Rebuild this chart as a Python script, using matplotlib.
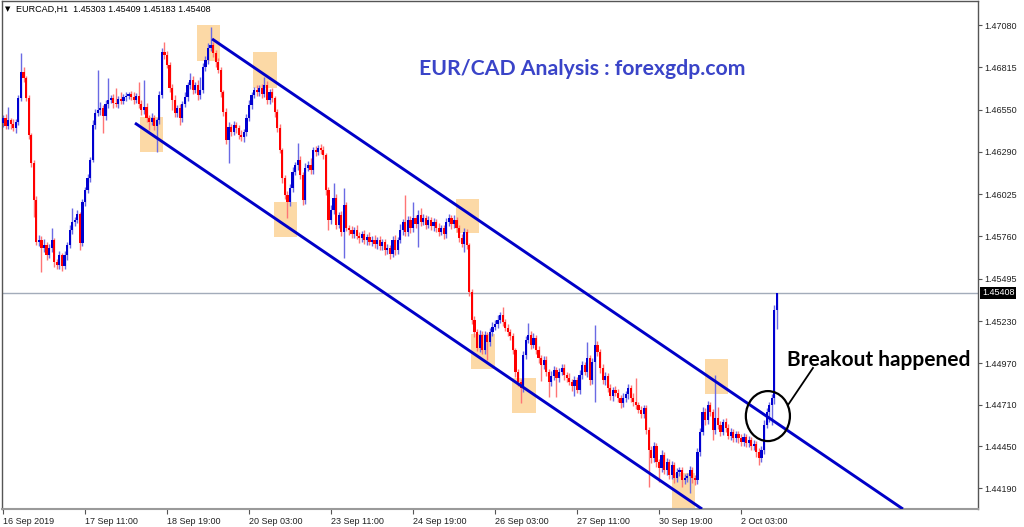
import matplotlib
matplotlib.use("Agg")
import matplotlib.pyplot as plt
import matplotlib.transforms as mtransforms
from matplotlib.patches import Rectangle, Ellipse
import numpy as np

plt.rcParams['font.family'] = ['Liberation Sans', 'DejaVu Sans']

# EURCAD H1 closes, one per bar (bar 0 = 16 Sep 2019)
closes = [
    1.46499, 1.46450, 1.46487, 1.46462, 1.46437, 1.46474, 1.46624, 1.46787, 1.46749, 1.46624,
    1.46393, 1.46219, 1.45988, 1.45725, 1.45738, 1.45688, 1.45707, 1.45644, 1.45688, 1.45738,
    1.45601, 1.45582, 1.45644, 1.45576, 1.45644, 1.45707, 1.45800, 1.45850, 1.45863, 1.45900,
    1.45719, 1.45975, 1.46050, 1.46125, 1.46237, 1.46456, 1.46531, 1.46549, 1.46562, 1.46512,
    1.46587, 1.46612, 1.46624, 1.46593, 1.46587, 1.46618, 1.46606, 1.46631, 1.46637, 1.46649,
    1.46631, 1.46612, 1.46637, 1.46587, 1.46549, 1.46568, 1.46499, 1.46474, 1.46499, 1.46450,
    1.46487, 1.46643, 1.46911, 1.46893, 1.46830, 1.46687, 1.46612, 1.46531, 1.46562, 1.46499,
    1.46587, 1.46631, 1.46705, 1.46737, 1.46674, 1.46705, 1.46643, 1.46674, 1.46818, 1.46861,
    1.46936, 1.46955, 1.46905, 1.46849, 1.46799, 1.46662, 1.46537, 1.46362, 1.46443, 1.46412,
    1.46456, 1.46437, 1.46393, 1.46381, 1.46412, 1.46499, 1.46581, 1.46643, 1.46674, 1.46662,
    1.46687, 1.46649, 1.46705, 1.46612, 1.46662, 1.46624, 1.46537, 1.46437, 1.46300, 1.46125,
    1.46019, 1.45975, 1.46063, 1.46162, 1.46206, 1.46237, 1.46144, 1.45988, 1.46187, 1.46206,
    1.46175, 1.46300, 1.46287, 1.46312, 1.46300, 1.46268, 1.46050, 1.45863, 1.45925, 1.46000,
    1.45832, 1.45894, 1.45788, 1.45956, 1.45813, 1.45800, 1.45775, 1.45800, 1.45763, 1.45750,
    1.45775, 1.45738, 1.45757, 1.45725, 1.45738, 1.45713, 1.45738, 1.45700, 1.45725, 1.45675,
    1.45688, 1.45651, 1.45738, 1.45675, 1.45738, 1.45800, 1.45850, 1.45788, 1.45863, 1.45813,
    1.45875, 1.45838, 1.45894, 1.45850, 1.45875, 1.45832, 1.45863, 1.45825, 1.45850, 1.45813,
    1.45788, 1.45813, 1.45775, 1.45850, 1.45875, 1.45838, 1.45863, 1.45813, 1.45750, 1.45713,
    1.45788, 1.45707, 1.45413, 1.45239, 1.45164, 1.45064, 1.45145, 1.45051, 1.45145, 1.45101,
    1.45164, 1.45195, 1.45214, 1.45239, 1.45270, 1.45226, 1.45189, 1.45164, 1.45139, 1.45051,
    1.44914, 1.44852, 1.44814, 1.45020, 1.45114, 1.45145, 1.45083, 1.45126, 1.45051, 1.45001,
    1.44958, 1.44989, 1.44914, 1.44852, 1.44889, 1.44926, 1.44877, 1.44914, 1.44939, 1.44895,
    1.44877, 1.44852, 1.44827, 1.44864, 1.44802, 1.44895, 1.44958, 1.44914, 1.45001, 1.44864,
    1.44976, 1.45083, 1.45039, 1.44939, 1.44864, 1.44889, 1.44814, 1.44764, 1.44802, 1.44783,
    1.44752, 1.44720, 1.44752, 1.44777, 1.44814, 1.44752, 1.44727, 1.44708, 1.44677, 1.44652,
    1.44689, 1.44552, 1.44427, 1.44377, 1.44452, 1.44352, 1.44315, 1.44396, 1.44302, 1.44352,
    1.44271, 1.44333, 1.44252, 1.44290, 1.44302, 1.44240, 1.44252, 1.44265, 1.44302, 1.44252,
    1.44240, 1.44415, 1.44540, 1.44664, 1.44614, 1.44708, 1.44664, 1.44552, 1.44627, 1.44583,
    1.44540, 1.44602, 1.44565, 1.44515, 1.44540, 1.44502, 1.44527, 1.44502, 1.44477, 1.44508,
    1.44471, 1.44490, 1.44452, 1.44465, 1.44415, 1.44377, 1.44427, 1.44583, 1.44664, 1.44708,
    1.44752, 1.45303, 1.45408,
]
first_open = 1.46470

# wick lengths above / below the candle body, in points (0.00001)
upper_wick_pts = [
    20, 25, 81, 15, 30, 18, 22, 119, 28, 15,
    20, 12, 18, 25, 30, 22, 35, 18, 25, 75,
    15, 20, 28, 12, 25, 18, 30, 87, 20, 25,
    15, 22, 18, 25, 20, 30, 22, 250, 35, 18,
    25, 137, 20, 28, 94, 22, 44, 18, 25, 15,
    20, 28, 18, 87, 22, 168, 25, 18, 30, 20,
    15, 25, 25, 62, 28, 18, 22, 30, 20, 25,
    18, 28, 22, 44, 25, 20, 30, 81, 22, 28,
    30, 112, 20, 18, 25, 22, 15, 28, 30, 20,
    25, 18, 22, 30, 20, 25, 28, 18, 22, 30,
    20, 25, 50, 28, 18, 22, 15, 20, 25, 12,
    18, 22, 25, 30, 20, 106, 28, 18, 30, 25,
    44, 20, 28, 18, 25, 22, 15, 20, 30, 94,
    25, 20, 28, 106, 22, 18, 25, 20, 30, 22,
    18, 25, 20, 28, 22, 30, 18, 25, 20, 22,
    28, 18, 25, 30, 20, 35, 22, 168, 25, 28,
    100, 22, 30, 44, 25, 20, 28, 18, 25, 22,
    30, 20, 18, 28, 25, 22, 30, 20, 18, 25,
    22, 20, 15, 18, 25, 20, 30, 22, 28, 20,
    25, 30, 22, 28, 20, 50, 22, 25, 18, 20,
    15, 22, 20, 28, 25, 75, 22, 30, 20, 25,
    18, 28, 22, 20, 30, 25, 18, 28, 22, 25,
    20, 28, 18, 25, 22, 30, 25, 20, 100, 22,
    28, 125, 25, 20, 22, 28, 18, 25, 20, 22,
    25, 18, 28, 20, 25, 22, 30, 150, 20, 25,
    22, 18, 20, 28, 25, 22, 20, 30, 18, 25,
    22, 28, 20, 25, 18, 22, 25, 20, 28, 22,
    18, 25, 22, 30, 25, 28, 20, 22, 268, 69,
    25, 20, 28, 22, 25, 18, 22, 20, 25, 28,
    20, 22, 18, 25, 20, 22, 25, 30, 28, 22,
    25, 30, 1,
]
lower_wick_pts = [
    25, 18, 22, 30, 20, 28, 15, 20, 25, 18,
    22, 28, 106, 20, 25, 150, 22, 28, 20, 25,
    30, 22, 25, 31, 20, 28, 18, 25, 22, 20,
    44, 20, 25, 18, 22, 15, 25, 20, 28, 106,
    22, 25, 18, 28, 20, 25, 22, 18, 25, 20,
    22, 28, 20, 25, 30, 22, 25, 50, 20, 28,
    162, 22, 18, 25, 20, 28, 62, 25, 22, 44,
    25, 20, 28, 22, 25, 18, 30, 22, 20, 25,
    22, 18, 25, 28, 20, 30, 25, 22, 144, 25,
    20, 28, 22, 25, 30, 22, 18, 25, 20, 28,
    22, 25, 20, 28, 25, 22, 30, 25, 20, 28,
    25, 100, 22, 25, 20, 28, 22, 30, 25, 20,
    28, 22, 25, 20, 28, 25, 30, 62, 22, 25,
    28, 22, 25, 162, 20, 28, 22, 25, 20, 28,
    22, 25, 28, 20, 25, 22, 30, 25, 22, 28,
    25, 30, 22, 28, 25, 20, 28, 22, 25, 30,
    22, 28, 144, 25, 20, 28, 22, 25, 30, 22,
    25, 20, 28, 22, 25, 30, 22, 28, 25, 20,
    50, 28, 22, 25, 30, 20, 28, 22, 25, 112,
    22, 25, 20, 28, 22, 25, 20, 28, 22, 25,
    28, 25, 94, 22, 25, 20, 28, 22, 25, 30,
    100, 22, 25, 94, 28, 22, 119, 25, 20, 28,
    25, 22, 30, 60, 22, 28, 25, 20, 28, 30,
    25, 250, 22, 28, 25, 30, 22, 25, 28, 20,
    25, 28, 22, 25, 30, 22, 28, 25, 20, 28,
    25, 22, 231, 28, 25, 30, 87, 22, 25, 28,
    22, 25, 30, 22, 28, 44, 25, 22, 106, 28,
    30, 22, 25, 20, 28, 22, 25, 62, 22, 25,
    28, 22, 25, 20, 28, 25, 22, 28, 25, 22,
    25, 28, 22, 25, 30, 44, 22, 25, 20, 62,
    125, 40, 118,
]

last_price = 1.45408
header = "EURCAD,H1  1.45303 1.45409 1.45183 1.45408"

price_ticks = [1.47080, 1.46815, 1.46550, 1.46290, 1.46025, 1.45760,
               1.45495, 1.45230, 1.44970, 1.44710, 1.44450, 1.44190]
time_tick_bars = [0, 32, 64, 96, 128, 160, 192, 224, 256, 288]
time_tick_labels = ["16 Sep 2019", "17 Sep 11:00", "18 Sep 19:00", "20 Sep 03:00",
                    "23 Sep 11:00", "24 Sep 19:00", "26 Sep 03:00", "27 Sep 11:00",
                    "30 Sep 19:00", "2 Oct 03:00"]

# channel lines as (bar, price) anchors
upper_channel = [(81.6, 1.46993), (351.2, 1.44059)]
lower_channel = [(51.5, 1.46468), (272.8, 1.44059)]

# touch zones: first bar, last bar, low price, high price
touch_zones = [
    (75.7, 84.7, 1.46855, 1.47080),
    (97.6, 106.9, 1.46687, 1.46911),
    (53.5, 62.4, 1.46287, 1.46506),
    (105.8, 114.7, 1.45757, 1.45975),
    (176.8, 185.8, 1.45782, 1.45994),
    (182.6, 192.0, 1.44933, 1.45151),
    (198.6, 208.0, 1.44658, 1.44877),
    (261.1, 270.0, 1.44059, 1.44284),
    (274.0, 283.0, 1.44777, 1.44995),
]
breakout_center = (298.5, 1.44639)
breakout_size = (17.2, 0.00312)


def draw_candles(ax):
    """Candlesticks: open is the previous close."""
    c = np.array(closes)
    o = np.concatenate([[first_open], c[:-1]])
    top = np.maximum(o, c)
    bot = np.minimum(o, c)
    hi = top + np.array(upper_wick_pts) / 1e5
    lo = bot - np.array(lower_wick_pts) / 1e5
    x = np.arange(len(c))
    up = c >= o
    body_col = np.where(up, "#0000d0", "#ff0000")
    wick_col = np.where(up, "#6a6ae4", "#ff7575")
    ax.vlines(x, lo, hi, colors=wick_col, linewidth=1.0, zorder=2)
    height = np.maximum(top - bot, 0.00002)
    ax.bar(x, height, bottom=bot, width=0.85, color=body_col, linewidth=0, zorder=3)


def main():
    fig = plt.figure(figsize=(10.24, 5.27), dpi=100)
    ax = fig.add_axes([2 / 1024, 18 / 527, 976 / 1024, 508 / 527])

    for b0, b1, p0, p1 in touch_zones:
        ax.add_patch(Rectangle((b0, p0), b1 - b0, p1 - p0, facecolor="#fcd9a6",
                               edgecolor="none", zorder=1))

    draw_candles(ax)

    ax.axhline(last_price, color="#a3acba", linewidth=1, zorder=1.5)

    for line in (upper_channel, lower_channel):
        xs, ys = zip(*line)
        ax.plot(xs, ys, color="#0000c8", linewidth=2.1, zorder=4,
                solid_capstyle="butt")

    ax.add_patch(Ellipse(breakout_center, breakout_size[0], breakout_size[1],
                         facecolor="none", edgecolor="black", linewidth=1.6, zorder=5))
    ax.plot([0.8053, 0.8309], [0.2047, 0.2776], color="black", linewidth=1.3,
            transform=ax.transAxes, zorder=5)
    ax.text(0.804, 0.2815, "Breakout happened", transform=ax.transAxes,
            fontsize=15, fontweight="bold", family="Lato", color="black",
            ha="left", va="baseline", zorder=6)
    ax.text(0.595, 0.866, "EUR/CAD Analysis : forexgdp.com", transform=ax.transAxes,
            fontsize=15.3, fontweight="bold", family="Lato", color="#3a44c8",
            ha="center", va="center", zorder=6)

    ax.set_xlim(-0.4, 380.5)
    ax.set_ylim(1.44059, 1.47230)

    ax.yaxis.tick_right()
    ax.set_yticks(price_ticks)
    ax.set_yticklabels([f"{p:.5f}" for p in price_ticks])
    ax.tick_params(axis="y", length=3, width=0.8, pad=1.5, labelsize=6.5,
                   color="#555555", labelcolor="#222222")
    ax.set_xticks(time_tick_bars)
    ax.set_xticklabels(time_tick_labels)
    for lbl in ax.get_xticklabels():
        lbl.set_ha("left")
    ax.tick_params(axis="x", length=3.5, width=0.8, pad=2, labelsize=6.5,
                   color="#555555", labelcolor="#222222")

    for side in ("left", "top", "right"):
        ax.spines[side].set_color("#555555")
        ax.spines[side].set_linewidth(1)
    ax.spines["bottom"].set_color("#9a9a9a")
    ax.spines["bottom"].set_linewidth(1.5)

    trans = mtransforms.blended_transform_factory(ax.transAxes, ax.transData)
    ax.text(1.004, last_price, f"{last_price:.5f}", transform=trans, fontsize=6.5,
            color="white", ha="left", va="center",
            bbox=dict(facecolor="black", edgecolor="none", pad=1.2))

    fig.text(5 / 1024, 1 - 9 / 527, "\u25bc", fontsize=5, family="DejaVu Sans",
             va="center", ha="left")
    fig.text(16 / 1024, 1 - 9 / 527, header, fontsize=6.5, va="center", ha="left")

    fig.savefig("out.png", dpi=100)


if __name__ == "__main__":
    main()
